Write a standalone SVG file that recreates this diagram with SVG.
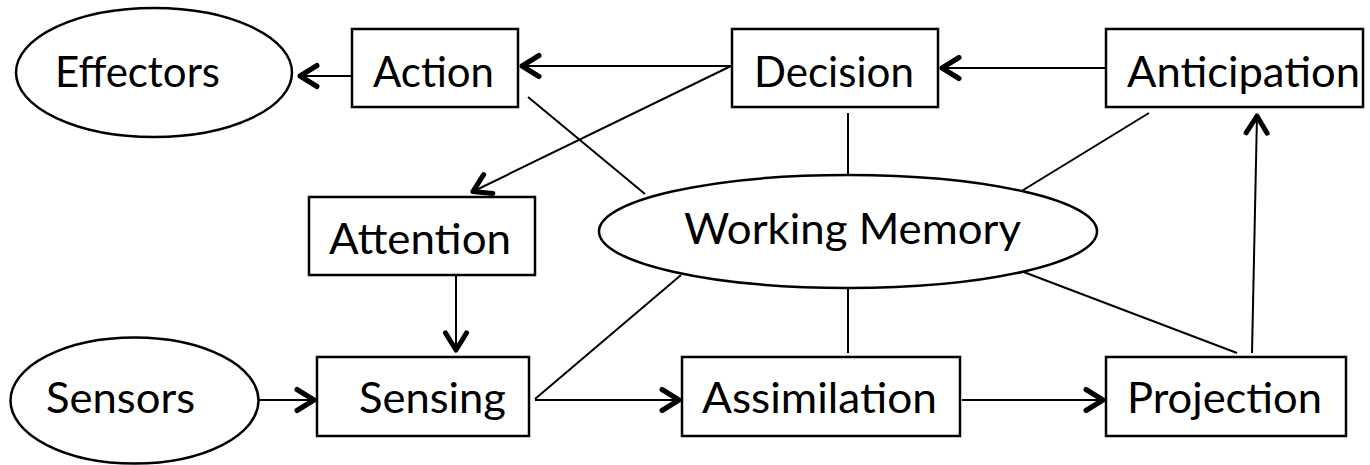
<svg xmlns="http://www.w3.org/2000/svg" width="1370" height="465" viewBox="0 0 1370 465">
<style>
.n{fill:#fff;stroke:#000;stroke-width:2.5}
.t{font-family:Lato,"Liberation Sans",sans-serif;font-size:43px;fill:#000}
.c line{stroke:#000;stroke-width:2}
.a{marker-end:url(#ah)}
.h{fill:none;stroke:#000;stroke-width:5;stroke-linecap:round;stroke-linejoin:round}
</style>
<defs>
<marker id="ah" markerUnits="userSpaceOnUse" markerWidth="40" markerHeight="40" viewBox="-25 -20 40 40" refX="0" refY="0" orient="auto" overflow="visible">
<path class="h" d="M-18,-10.5 L-1,0 L-18,10.5"/>
</marker>
</defs>
<rect width="1370" height="465" fill="#fff"/>
<g id="connectors" class="c">
<line class="a" x1="352" y1="76" x2="299" y2="76"/>
<line class="a" x1="732" y1="66" x2="521" y2="66"/>
<line class="a" x1="1106" y1="68" x2="941" y2="68"/>
<line class="a" x1="731" y1="66" x2="472" y2="192"/>
<line class="a" x1="456" y1="275" x2="456" y2="351"/>
<line class="a" x1="259" y1="400" x2="315" y2="400"/>
<line class="a" x1="535" y1="400" x2="680" y2="400"/>
<line class="a" x1="962" y1="400" x2="1104" y2="400"/>
<line class="a" x1="1252" y1="353" x2="1257" y2="115"/>
<line x1="528" y1="97" x2="645" y2="194"/>
<line x1="848" y1="113" x2="848" y2="176"/>
<line x1="1149" y1="113" x2="1020" y2="192"/>
<line x1="535" y1="399" x2="681" y2="275"/>
<line x1="848" y1="289" x2="848" y2="353"/>
<line x1="1021" y1="271" x2="1237" y2="353"/>
</g>
<g id="effectors"><ellipse class="n" cx="154" cy="72.5" rx="138" ry="64.5"/><text class="t" x="55" y="87" textLength="165" lengthAdjust="spacingAndGlyphs">Effectors</text></g>
<g id="action"><rect class="n" x="352" y="29" width="166" height="78"/><text class="t" x="373" y="87" textLength="121" lengthAdjust="spacingAndGlyphs">Action</text></g>
<g id="decision"><rect class="n" x="732" y="29" width="206" height="78"/><text class="t" x="754" y="87" textLength="160" lengthAdjust="spacingAndGlyphs">Decision</text></g>
<g id="anticipation"><rect class="n" x="1106" y="29" width="257" height="78"/><text class="t" x="1127" y="87" textLength="233" lengthAdjust="spacingAndGlyphs">Anticipation</text></g>
<g id="attention"><rect class="n" x="309" y="197" width="226" height="78"/><text class="t" x="329" y="254" textLength="182" lengthAdjust="spacingAndGlyphs">Attention</text></g>
<g id="working-memory"><ellipse class="n" cx="848" cy="231.5" rx="249" ry="56.5"/><text class="t" x="684" y="244" textLength="337" lengthAdjust="spacingAndGlyphs">Working Memory</text></g>
<g id="sensors"><ellipse class="n" cx="134.5" cy="400.5" rx="124" ry="63"/><text class="t" x="46" y="413" textLength="149" lengthAdjust="spacingAndGlyphs">Sensors</text></g>
<g id="sensing"><rect class="n" x="317" y="357" width="212" height="79"/><text class="t" x="359" y="413" textLength="147" lengthAdjust="spacingAndGlyphs">Sensing</text></g>
<g id="assimilation"><rect class="n" x="682" y="357" width="278" height="79"/><text class="t" x="702" y="413" textLength="235" lengthAdjust="spacingAndGlyphs">Assimilation</text></g>
<g id="projection"><rect class="n" x="1106" y="357" width="240" height="79"/><text class="t" x="1127" y="413" textLength="195" lengthAdjust="spacingAndGlyphs">Projection</text></g>
</svg>
